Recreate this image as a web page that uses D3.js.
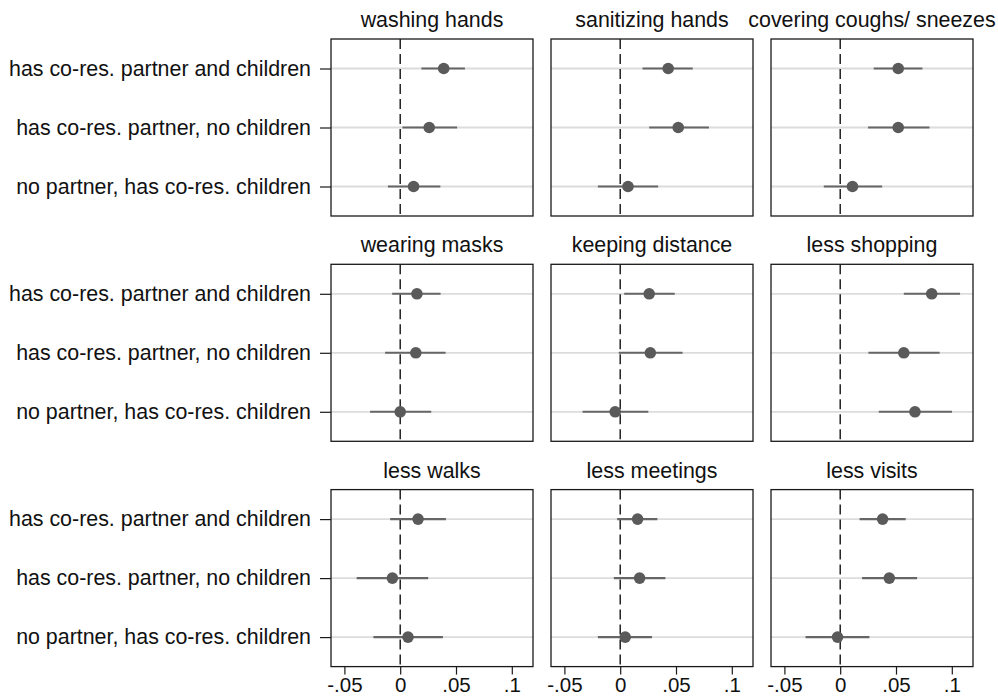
<!DOCTYPE html>
<html>
<head>
<meta charset="utf-8">
<script src="https://cdn.jsdelivr.net/npm/d3@7"></script>
<style>
  html, body { margin: 0; padding: 0; background: #fff; }
  svg { display: block; font-family: "Liberation Sans", Arial, Helvetica, sans-serif; }
</style>
</head>
<body>
<svg id="chart" width="998" height="698"></svg>
<script>
// ---- data ----
const panelTitles = [
  "washing hands", "sanitizing hands", "covering coughs/ sneezes",
  "wearing masks", "keeping distance", "less shopping",
  "less walks", "less meetings", "less visits"
];
const categories = [
  "has co-res. partner and children",
  "has co-res. partner, no children",
  "no partner, has co-res. children"
];
const estimates = [
  [0.039, 0.026, 0.012],
  [0.043, 0.052, 0.007],
  [0.052, 0.052, 0.011],
  [0.015, 0.014, 0.000],
  [0.026, 0.027, -0.0045],
  [0.082, 0.057, 0.067],
  [0.016, -0.007, 0.007],
  [0.0156, 0.0174, 0.0045],
  [0.038, 0.044, -0.0024]
];
const lowerCI = [
  [0.019, 0.002, -0.011],
  [0.020, 0.026, -0.020],
  [0.030, 0.025, -0.0147],
  [-0.0072, -0.0135, -0.027],
  [0.0036, -0.0013, -0.0337],
  [0.057, 0.0253, 0.0346],
  [-0.009, -0.039, -0.024],
  [-0.0027, -0.0057, -0.020],
  [0.0174, 0.0196, -0.031]
];
const upperCI = [
  [0.058, 0.051, 0.036],
  [0.065, 0.0795, 0.034],
  [0.0737, 0.080, 0.0376],
  [0.0362, 0.0407, 0.0278],
  [0.0489, 0.0559, 0.0252],
  [0.1074, 0.0891, 0.1002],
  [0.041, 0.0251, 0.0383],
  [0.0333, 0.0405, 0.0285],
  [0.0587, 0.0689, 0.0262]
];
const xTickValues = [-0.05, 0, 0.05, 0.1];
const xTickLabels = ["-.05", "0", ".05", ".1"];

// ---- layout ----
const svg = d3.select("#chart");
const colLeft = [331, 551, 771];
const panelW = 202;
const rowTop = [39, 264.3, 489.6];
const panelH = 177;
const xDomain = [-0.062, 0.119];
const fontSize = 21.4;
const tickFontSize = 20.5;

panelTitles.forEach((title, i) => {
  const col = i % 3, row = Math.floor(i / 3);
  const x0 = colLeft[col], y0 = rowTop[row];
  const x = d3.scaleLinear().domain(xDomain).range([x0, x0 + panelW]);
  const y = d3.scalePoint().domain(categories).range([y0, y0 + panelH]).padding(0.5);
  const g = svg.append("g");

  // gridlines
  g.selectAll("line.grid").data(categories).join("line")
    .attr("x1", x0).attr("x2", x0 + panelW)
    .attr("y1", d => y(d)).attr("y2", d => y(d))
    .attr("stroke", "#dcdcdc").attr("stroke-width", 1.8);

  // zero line
  g.append("line")
    .attr("x1", x(0)).attr("x2", x(0))
    .attr("y1", y0).attr("y2", y0 + panelH)
    .attr("stroke", "#000").attr("stroke-width", 1.3)
    .attr("stroke-dasharray", "10,5");

  // CIs
  g.selectAll("line.ci").data(categories).join("line")
    .attr("x1", (d, j) => x(lowerCI[i][j]))
    .attr("x2", (d, j) => x(upperCI[i][j]))
    .attr("y1", d => y(d)).attr("y2", d => y(d))
    .attr("stroke", "#666").attr("stroke-width", 2.1);

  // points
  g.selectAll("circle").data(categories).join("circle")
    .attr("cx", (d, j) => x(estimates[i][j]))
    .attr("cy", d => y(d))
    .attr("r", 5.8)
    .attr("fill", "#5a5a5a");

  // frame
  g.append("rect")
    .attr("x", x0).attr("y", y0).attr("width", panelW).attr("height", panelH)
    .attr("fill", "none").attr("stroke", "#1a1a1a").attr("stroke-width", 1.3);

  // title
  g.append("text")
    .attr("x", x0 + panelW / 2).attr("y", y0 - 12)
    .attr("text-anchor", "middle")
    .attr("font-size", fontSize).attr("fill", "#111")
    .text(title);

  // y axis on left column
  if (col === 0) {
    const ay = d3.axisLeft(y).tickSize(11).tickPadding(9);
    const ga = g.append("g").attr("transform", `translate(${x0},0)`).call(ay);
    ga.select(".domain").remove();
    ga.selectAll(".tick line").attr("stroke", "#1a1a1a").attr("stroke-width", 1.2);
    ga.selectAll(".tick text").attr("font-size", fontSize)
      .attr("font-family", "Liberation Sans, Arial, sans-serif").attr("fill", "#111");
  }
  // x axis on bottom row
  if (row === 2) {
    const ax = d3.axisBottom(x).tickValues(xTickValues)
      .tickFormat((d, k) => xTickLabels[k]).tickSize(8).tickPadding(3);
    const ga = g.append("g").attr("transform", `translate(0,${y0 + panelH})`).call(ax);
    ga.select(".domain").remove();
    ga.selectAll(".tick line").attr("stroke", "#1a1a1a").attr("stroke-width", 1.2);
    ga.selectAll(".tick text").attr("font-size", tickFontSize)
      .attr("font-family", "Liberation Sans, Arial, sans-serif").attr("fill", "#111");
  }
});
</script>
</body>
</html>
